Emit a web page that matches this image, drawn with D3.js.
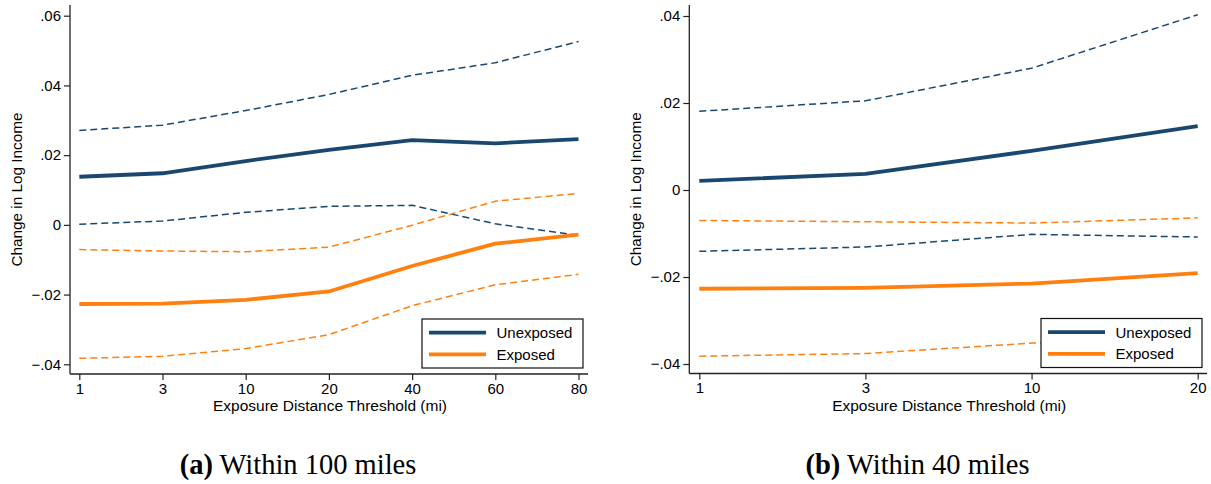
<!DOCTYPE html>
<html>
<head>
<meta charset="utf-8">
<script src="https://cdn.jsdelivr.net/npm/d3@7"></script>
<style>
  html, body { margin: 0; padding: 0; background: #fff; }
  svg { display: block; }
  .tick text { font-family: "Liberation Sans", Arial, sans-serif; font-size: 15px; fill: #000; }
</style>
</head>
<body>
<svg id="chart" width="1211" height="484"></svg>
<script>
// Distance thresholds (miles) for each panel
const thresholdsA = ["1", "3", "10", "20", "40", "60", "80"];
const thresholdsB = ["1", "3", "10", "20"];

// Panel (a): within 100 miles — point estimates and 95% bounds
const unexposedA   = [0.0138, 0.0148, 0.0183, 0.0215, 0.0243, 0.0234, 0.0246];
const unexposedHiA = [0.0271, 0.0286, 0.0328, 0.0374, 0.0429, 0.0465, 0.0526];
const unexposedLoA = [0.0002, 0.0011, 0.0036, 0.0053, 0.0056, 0.0003, -0.0030];
const exposedA     = [-0.0227, -0.0226, -0.0215, -0.0191, -0.0118, -0.0054, -0.0028];
const exposedHiA   = [-0.0071, -0.0075, -0.0077, -0.0064, -0.0001, 0.0068, 0.0090];
const exposedLoA   = [-0.0383, -0.0377, -0.0355, -0.0315, -0.0232, -0.0172, -0.0142];

// Panel (b): within 40 miles
const unexposedB   = [0.0021, 0.0037, 0.0090, 0.0147];
const unexposedHiB = [0.0181, 0.0205, 0.0280, 0.0403];
const unexposedLoB = [-0.0141, -0.0131, -0.0102, -0.0108];
const exposedB     = [-0.0227, -0.0225, -0.0215, -0.0191];
const exposedHiB   = [-0.0070, -0.0073, -0.0076, -0.0064];
const exposedLoB   = [-0.0382, -0.0376, -0.0352, -0.0335];

// Axis ticks and labels
const yTicksA = [-0.04, -0.02, 0, 0.02, 0.04, 0.06];
const yTickLabelsA = ["\u2212.04", "\u2212.02", "0", ".02", ".04", ".06"];
const yTicksB = [-0.04, -0.02, 0, 0.02, 0.04];
const yTickLabelsB = ["\u2212.04", "\u2212.02", "0", ".02", ".04"];

const seriesNames = ["Unexposed", "Exposed"];
const NAVY = "#1a476f";
const ORANGE = "#ff800e";

const svg = d3.select("#chart");

function drawPanel(cfg) {
  const g = svg.append("g");
  const x = d3.scalePoint().domain(cfg.thresholds).range(cfg.xRange);
  const y = d3.scaleLinear().domain([cfg.yTicks[0], cfg.yTicks[cfg.yTicks.length - 1]]).range(cfg.yRange);

  const line = d3.line()
    .x((d, i) => x(cfg.thresholds[i]))
    .y(d => y(d));

  // confidence bounds (dashed)
  const dashed = [
    [cfg.unexposedHi, NAVY], [cfg.unexposedLo, NAVY],
    [cfg.exposedHi, ORANGE], [cfg.exposedLo, ORANGE]
  ];
  dashed.forEach(([vals, col]) => {
    g.append("path").datum(vals)
      .attr("d", line)
      .attr("fill", "none")
      .attr("stroke", col)
      .attr("stroke-width", 1.5)
      .attr("stroke-dasharray", "7,4");
  });

  // point estimates (solid)
  [[cfg.unexposed, NAVY], [cfg.exposed, ORANGE]].forEach(([vals, col]) => {
    g.append("path").datum(vals)
      .attr("d", line)
      .attr("fill", "none")
      .attr("stroke", col)
      .attr("stroke-width", 3.8)
      .attr("stroke-linejoin", "round");
  });

  // axes
  const yAxis = d3.axisLeft(y)
    .tickValues(cfg.yTicks)
    .tickFormat((d, i) => cfg.yTickLabels[i])
    .tickSize(6).tickPadding(3).tickSizeOuter(0);
  const ya = g.append("g").attr("transform", `translate(${cfg.plot.x0},0)`).call(yAxis);
  ya.select(".domain").remove();
  ya.selectAll(".tick line").attr("stroke", "#222").attr("stroke-width", 1.2);

  const xAxis = d3.axisBottom(x).tickSize(6).tickPadding(3).tickSizeOuter(0);
  const xa = g.append("g").attr("transform", `translate(0,${cfg.plot.y1})`).call(xAxis);
  xa.select(".domain").remove();
  xa.selectAll(".tick line").attr("stroke", "#222").attr("stroke-width", 1.2);

  // axis lines spanning the plot region
  g.append("line")
    .attr("x1", cfg.plot.x0).attr("x2", cfg.plot.x0)
    .attr("y1", cfg.plot.y0).attr("y2", cfg.plot.y1)
    .attr("stroke", "#222").attr("stroke-width", 1.3);
  g.append("line")
    .attr("x1", cfg.plot.x0).attr("x2", cfg.plot.x1)
    .attr("y1", cfg.plot.y1).attr("y2", cfg.plot.y1)
    .attr("stroke", "#222").attr("stroke-width", 1.3);

  // axis titles
  g.append("text")
    .attr("x", (cfg.plot.x0 + cfg.plot.x1) / 2 + 1)
    .attr("y", cfg.plot.y1 + 37)
    .attr("text-anchor", "middle")
    .attr("font-family", "Liberation Sans, Arial, sans-serif")
    .attr("font-size", 15.5)
    .text("Exposure Distance Threshold (mi)");
  g.append("text")
    .attr("transform", `translate(${cfg.yTitleX},${(cfg.plot.y0 + cfg.plot.y1) / 2}) rotate(-90)`)
    .attr("text-anchor", "middle")
    .attr("font-family", "Liberation Sans, Arial, sans-serif")
    .attr("font-size", 15.3)
    .text("Change in Log Income");

  // legend
  const lw = 161, lh = 49;
  const lx = cfg.plot.x1 - 5 - lw, ly = cfg.plot.y1 - 6 - lh;
  const leg = g.append("g").attr("transform", `translate(${lx},${ly})`);
  leg.append("rect").attr("width", lw).attr("height", lh)
    .attr("fill", "#fff").attr("stroke", "#111").attr("stroke-width", 1.2);
  [NAVY, ORANGE].forEach((col, i) => {
    const yy = 13.7 + i * 21.6;
    leg.append("line").attr("x1", 7).attr("x2", 64).attr("y1", yy).attr("y2", yy)
      .attr("stroke", col).attr("stroke-width", 3.8);
    leg.append("text").attr("x", 74.5).attr("y", yy).attr("dy", "0.36em")
      .attr("font-family", "Liberation Sans, Arial, sans-serif")
      .attr("font-size", 15)
      .text(seriesNames[i]);
  });

  // caption
  const cap = svg.append("text")
    .attr("x", cfg.captionX).attr("y", 474)
    .attr("text-anchor", "middle")
    .attr("font-family", "Liberation Serif, Times New Roman, serif")
    .attr("font-size", 28.5);
  cap.append("tspan").attr("font-weight", "bold").text(cfg.captionTag);
  cap.append("tspan").text(" " + cfg.captionText);
}

drawPanel({
  thresholds: thresholdsA,
  unexposed: unexposedA, unexposedHi: unexposedHiA, unexposedLo: unexposedLoA,
  exposed: exposedA, exposedHi: exposedHiA, exposedLo: exposedLoA,
  yTicks: yTicksA, yTickLabels: yTickLabelsA,
  xRange: [79.3, 578.5], yRange: [364.3, 15.7],
  plot: { x0: 70, x1: 588, y0: 5, y1: 374 },
  yTitleX: 21.5,
  captionX: 298, captionTag: "(a)", captionText: "Within 100 miles"
});

drawPanel({
  thresholds: thresholdsB,
  unexposed: unexposedB, unexposedHi: unexposedHiB, unexposedLo: unexposedLoB,
  exposed: exposedB, exposedHi: exposedHiB, exposedLo: exposedLoB,
  yTicks: yTicksB, yTickLabels: yTickLabelsB,
  xRange: [699.3, 1197.7], yRange: [364, 16],
  plot: { x0: 689.3, x1: 1207, y0: 5, y1: 373.5 },
  yTitleX: 641,
  captionX: 917.5, captionTag: "(b)", captionText: "Within 40 miles"
});
</script>
</body>
</html>
